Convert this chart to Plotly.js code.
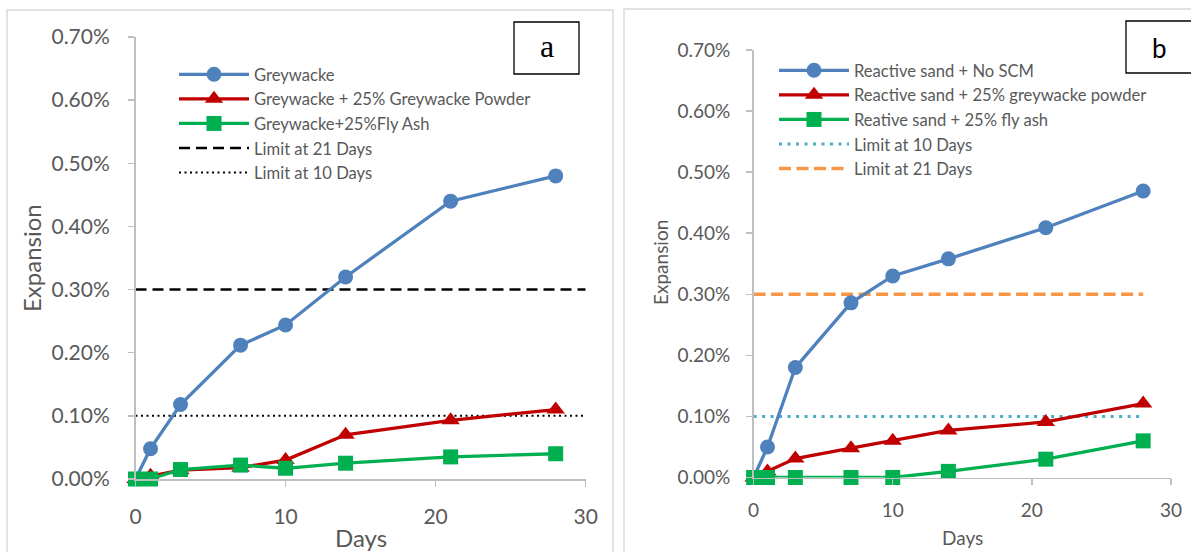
<!DOCTYPE html>
<html>
<head>
<meta charset="utf-8">
<script src="https://cdn.plot.ly/plotly-3.0.1.min.js"></script>
<style>
  html, body { margin: 0; padding: 0; background: #ffffff; }
  #chart { width: 1191px; height: 552px; }
</style>
</head>
<body>
<div id="chart"></div>
<script>
// ---------- data ----------
const days = [0, 1, 3, 7, 10, 14, 21, 28];

// panel a (expansion, %)
const greywacke        = [0, 0.048, 0.118, 0.212, 0.244, 0.320, 0.440, 0.480];
const greywackePowder  = [0, 0.005, 0.014, 0.018, 0.030, 0.070, 0.093, 0.110];
const greywackeFlyAsh  = [0, 0.000, 0.015, 0.022, 0.017, 0.025, 0.035, 0.040];
const limitDaysA       = [0, 30];

// panel b (expansion, %)
const sandNoSCM        = [0, 0.050, 0.180, 0.286, 0.330, 0.358, 0.409, 0.469];
const sandPowder       = [0, 0.010, 0.031, 0.048, 0.060, 0.077, 0.091, 0.121];
const sandFlyAsh       = [0, 0.000, 0.000, 0.000, 0.000, 0.010, 0.030, 0.060];
const limitDaysB       = [0, 28];

const limit21          = [0.30, 0.30];
const limit10          = [0.10, 0.10];

const xTicks = [0, 10, 20, 30];
const yTicks = [0, 0.1, 0.2, 0.3, 0.4, 0.5, 0.6, 0.7];

const namesA = ['Greywacke', 'Greywacke + 25% Greywacke Powder', 'Greywacke+25%Fly Ash', 'Limit at 21 Days', 'Limit at 10 Days'];
const namesB = ['Reactive sand + No SCM', 'Reactive sand + 25% greywacke powder', 'Reative sand + 25% fly ash', 'Limit at 10 Days', 'Limit at 21 Days'];

// ---------- styling helpers ----------
const W = 1191, H = 552;
const px = v => v / W;
const py = v => 1 - v / H;

const BLUE = '#4F81BD', RED = '#C00000', GREEN = '#00B050';
const GREY_TXT = '#595959', AXIS = '#BFBFBF';
const FONT = 'Lato, "Open Sans", sans-serif';

function series(x, y, name, color, symbol, xa, ya, leg, rank) {
  return {
    x: x, y: y, name: name, type: 'scatter', mode: 'lines+markers',
    xaxis: xa, yaxis: ya, legend: leg, legendrank: rank,
    line: { color: color, width: 3.3 },
    marker: { color: color, symbol: symbol, size: symbol === 'triangle-up' ? 16 : 15 },
    cliponaxis: false, hoverinfo: 'skip'
  };
}
function limitLine(x, y, name, color, width, dash, xa, ya, leg, rank) {
  return {
    x: x, y: y, name: name, type: 'scatter', mode: 'lines',
    xaxis: xa, yaxis: ya, legend: leg, legendrank: rank,
    line: { color: color, width: width, dash: dash },
    cliponaxis: false, hoverinfo: 'skip'
  };
}

const data = [
  // panel a
  limitLine(limitDaysA, limit21, namesA[3], '#000000', 2.5, '11px,6px', 'x', 'y', 'legend', 4),
  limitLine(limitDaysA, limit10, namesA[4], '#000000', 2, '2px,3.5px', 'x', 'y', 'legend', 5),
  series(days, greywacke, namesA[0], BLUE, 'circle', 'x', 'y', 'legend', 1),
  series(days, greywackePowder, namesA[1], RED, 'triangle-up', 'x', 'y', 'legend', 2),
  series(days, greywackeFlyAsh, namesA[2], GREEN, 'square', 'x', 'y', 'legend', 3),
  // panel b
  limitLine(limitDaysB, limit10, namesB[3], '#4BACC6', 3, '3px,5.5px', 'x2', 'y2', 'legend2', 4),
  limitLine(limitDaysB, limit21, namesB[4], '#F79646', 3.5, '12px,5.5px', 'x2', 'y2', 'legend2', 5),
  series(days, sandNoSCM, namesB[0], BLUE, 'circle', 'x2', 'y2', 'legend2', 1),
  series(days, sandPowder, namesB[1], RED, 'triangle-up', 'x2', 'y2', 'legend2', 2),
  series(days, sandFlyAsh, namesB[2], GREEN, 'square', 'x2', 'y2', 'legend2', 3)
];

function xAxis(domain, fs, standoff) {
  return {
    domain: domain, range: [0, 30], tickvals: xTicks, ticktext: xTicks.map(String),
    showline: true, linecolor: AXIS, linewidth: 1.5, showgrid: false, zeroline: false,
    ticks: 'outside', ticklen: 6, tickwidth: 1.5, tickcolor: AXIS,
    tickfont: { family: FONT, size: fs, color: GREY_TXT }, ticklabelstandoff: standoff,
    fixedrange: true
  };
}
function yAxis(domain, fs, anchor, standoff) {
  return {
    domain: domain, range: [0, 0.7], tickvals: yTicks, ticktext: yTicks.map(v => v.toFixed(2) + '%'),
    showline: true, linecolor: AXIS, linewidth: 1.5, showgrid: false, zeroline: false,
    ticks: 'outside', ticklen: 6, tickwidth: 1.5, tickcolor: AXIS, anchor: anchor,
    tickfont: { family: FONT, size: fs, color: GREY_TXT }, ticklabelstandoff: standoff,
    fixedrange: true
  };
}

const layout = {
  width: W, height: H,
  margin: { l: 0, r: 0, t: 0, b: 0 },
  paper_bgcolor: '#ffffff', plot_bgcolor: 'rgba(0,0,0,0)',
  showlegend: true,
  xaxis:  Object.assign(xAxis([px(135.5), px(585.7)], 21, 12), { anchor: 'y' }),
  yaxis:  yAxis([py(479), py(37)], 21, 'x', 14),
  xaxis2: Object.assign(xAxis([px(753.6), px(1171)], 19, 9), { anchor: 'y2' }),
  yaxis2: yAxis([py(477.5), py(50)], 19, 'x2', 12),
  legend: {
    x: px(174), y: py(57), xanchor: 'left', yanchor: 'top',
    bgcolor: 'rgba(0,0,0,0)', borderwidth: 0, traceorder: 'normal',
    itemwidth: 70, font: { family: FONT, size: 16.6, color: GREY_TXT }
  },
  legend2: {
    x: px(774), y: py(53), xanchor: 'left', yanchor: 'top',
    bgcolor: 'rgba(0,0,0,0)', borderwidth: 0, traceorder: 'normal',
    itemwidth: 70, font: { family: FONT, size: 16.6, color: GREY_TXT }
  },
  shapes: [
    { type: 'rect', xref: 'paper', yref: 'paper', x0: px(7), x1: px(613), y0: py(10), y1: py(570),
      line: { color: '#D9D9D9', width: 1.5 }, layer: 'below' },
    { type: 'rect', xref: 'paper', yref: 'paper', x0: px(624), x1: px(1210), y0: py(9), y1: py(570),
      line: { color: '#D9D9D9', width: 1.5 }, layer: 'below' },
    { type: 'rect', xref: 'paper', yref: 'paper', x0: px(514), x1: px(579), y0: py(22), y1: py(74),
      line: { color: '#000000', width: 1.3 }, fillcolor: '#ffffff' },
    { type: 'rect', xref: 'paper', yref: 'paper', x0: px(1126), x1: px(1200), y0: py(21), y1: py(73),
      line: { color: '#000000', width: 1.3 }, fillcolor: '#ffffff' }
  ],
  annotations: [
    { text: 'a', xref: 'paper', yref: 'paper', x: px(546.5), y: py(46), showarrow: false,
      xanchor: 'center', yanchor: 'middle', font: { family: '"Liberation Serif", "DejaVu Serif", serif', size: 32, color: '#000000' } },
    { text: 'b', xref: 'paper', yref: 'paper', x: px(1159), y: py(48), showarrow: false,
      xanchor: 'center', yanchor: 'middle', font: { family: FONT, size: 26, color: '#000000' } },
    { text: 'Days', xref: 'paper', yref: 'paper', x: px(361), y: py(537), showarrow: false,
      xanchor: 'center', yanchor: 'middle', font: { family: FONT, size: 24, color: GREY_TXT } },
    { text: 'Expansion', xref: 'paper', yref: 'paper', x: px(31), y: py(258), showarrow: false, textangle: -90,
      xanchor: 'center', yanchor: 'middle', font: { family: FONT, size: 24, color: GREY_TXT } },
    { text: 'Days', xref: 'paper', yref: 'paper', x: px(962), y: py(537), showarrow: false,
      xanchor: 'center', yanchor: 'middle', font: { family: FONT, size: 19, color: GREY_TXT } },
    { text: 'Expansion', xref: 'paper', yref: 'paper', x: px(660), y: py(263), showarrow: false, textangle: -90,
      xanchor: 'center', yanchor: 'middle', font: { family: FONT, size: 19, color: GREY_TXT } }
  ]
};

Plotly.newPlot('chart', data, layout, { staticPlot: true, displayModeBar: false });
</script>
</body>
</html>
